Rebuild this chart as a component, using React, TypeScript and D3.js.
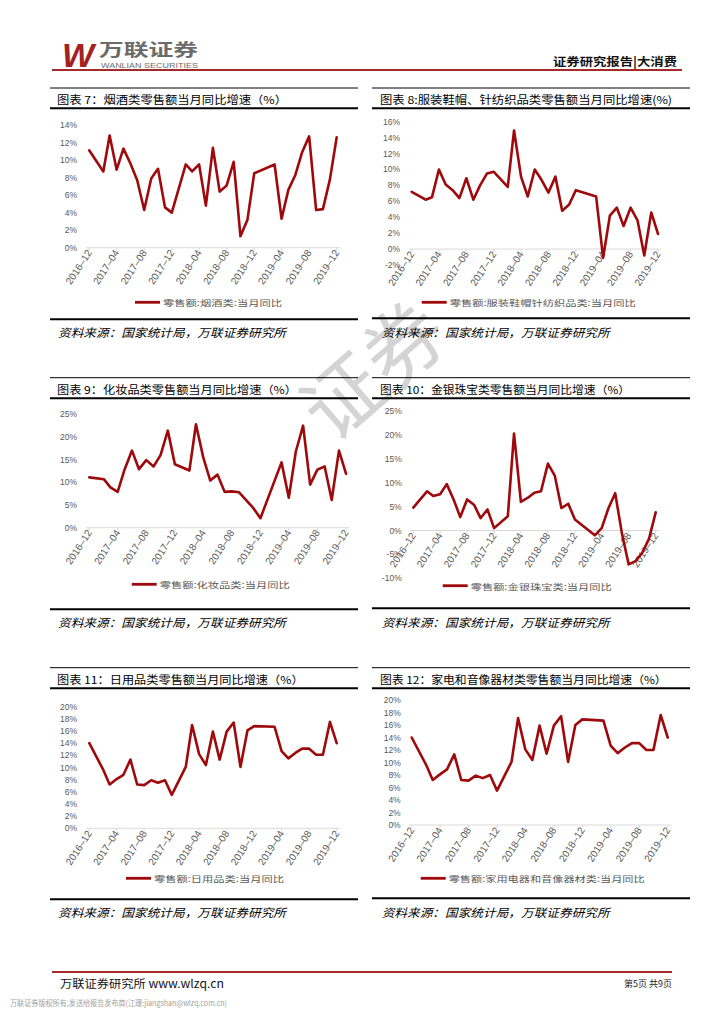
import React from "react";
import * as d3 from "d3";

// months with data (Jan / Jan-Feb gaps as in the source)
const months = [
  "2016-12",
  "2017-02", "2017-03", "2017-04", "2017-05", "2017-06", "2017-07", "2017-08", "2017-09", "2017-10", "2017-11", "2017-12",
  "2018-02", "2018-03", "2018-04", "2018-05", "2018-06", "2018-07", "2018-08", "2018-09", "2018-10", "2018-11", "2018-12",
  "2019-03", "2019-04", "2019-05", "2019-06", "2019-07", "2019-08", "2019-09", "2019-10", "2019-11", "2019-12",
];
const tickMonths = ["2016-12", "2017-04", "2017-08", "2017-12", "2018-04", "2018-08", "2018-12", "2019-04", "2019-08", "2019-12"];

const tobacco = [11.1, 8.7, 12.8, 8.9, 11.3, 9.6, 7.7, 4.3, 7.9, 9.0, 4.6, 4.0, 9.5, 8.7, 9.5, 4.8, 11.4, 6.4, 7.1, 9.8, 1.3, 3.2, 8.5, 9.5, 3.3, 6.6, 8.3, 10.9, 12.7, 4.3, 4.4, 7.8, 12.6];
const apparel = [7.2, 6.2, 6.5, 10.0, 8.1, 7.4, 6.4, 8.9, 6.2, 8.0, 9.5, 9.7, 7.8, 14.9, 9.1, 6.6, 10.0, 8.7, 7.1, 9.1, 4.8, 5.6, 7.4, 6.6, -1.1, 4.2, 5.2, 2.9, 5.2, 3.6, -0.8, 4.6, 1.9];
const cosmetics = [11.1, 10.7, 8.9, 7.9, 12.9, 17.0, 12.9, 14.9, 13.5, 16.0, 21.4, 14.0, 12.6, 22.8, 15.5, 10.4, 11.7, 7.9, 8.0, 7.8, 6.1, 4.3, 2.1, 14.4, 6.6, 16.8, 22.5, 9.5, 12.8, 13.5, 6.1, 17.0, 11.9];
const jewelry = [4.8, 8.2, 7.2, 7.6, 9.7, 6.5, 2.8, 6.5, 5.4, 2.6, 4.4, 0.5, 3.0, 20.3, 6.0, 6.8, 7.9, 8.2, 14.0, 11.5, 4.7, 5.6, 2.3, -1.0, 0.5, 4.6, 7.8, -0.5, -7.1, -6.4, -4.7, -1.7, 3.8];
const dailyUse = [14.0, 9.6, 7.2, 8.1, 8.8, 11.3, 7.2, 7.1, 7.9, 7.5, 7.9, 5.5, 10.1, 17.0, 12.2, 10.4, 15.9, 11.3, 15.9, 17.4, 10.1, 16.1, 16.8, 16.7, 12.7, 11.5, 12.4, 13.1, 13.1, 12.1, 12.1, 17.5, 14.0];
const appliances = [14.0, 9.6, 7.2, 8.1, 8.9, 11.3, 7.2, 7.1, 7.9, 7.5, 8.0, 5.5, 10.1, 17.1, 12.1, 10.4, 15.9, 11.4, 15.9, 17.4, 10.1, 16.0, 16.9, 16.7, 12.7, 11.5, 12.4, 13.1, 13.1, 12.0, 12.0, 17.6, 14.0];

const titles = [
  "图表 7：烟酒类零售额当月同比增速（%）",
  "图表 8:服装鞋帽、针纺织品类零售额当月同比增速(%)",
  "图表 9：化妆品类零售额当月同比增速（%）",
  "图表 10：金银珠宝类零售额当月同比增速（%）",
  "图表 11：日用品类零售额当月同比增速（%）",
  "图表 12：家电和音像器材类零售额当月同比增速（%）",
];
const legends = [
  "零售额:烟酒类:当月同比",
  "零售额:服装鞋帽针纺织品类:当月同比",
  "零售额:化妆品类:当月同比",
  "零售额:金银珠宝类:当月同比",
  "零售额:日用品类:当月同比",
  "零售额:家用电器和音像器材类:当月同比",
];
const source = "资料来源：国家统计局，万联证券研究所";

const RED = "#9e0a0c";
const GREY = "#595959";
const CJK = "'Noto Sans CJK SC', sans-serif";
const NUM = "'Liberation Sans', Arial, sans-serif";

const parse = d3.timeParse("%Y-%m");

interface Layout {
  colL: number; colR: number; titleX: number; titleW: number;
  lineTop: number; titleY: number; lineMid: number; lineBot: number; sourceY: number; sourceX: number;
  x0: number; x1: number; yTopPx: number; yBotPx: number;
  yMin: number; yMax: number; yStep: number;
  labelRight: number; legendX: number; legendY: number; legendW: number;
}

const layouts: Layout[] = [
  { colL: 50, colR: 358, titleX: 57, titleW: 230, lineTop: 88, titleY: 99, lineMid: 108.3, lineBot: 319.3, sourceY: 332, sourceX: 58,
    x0: 89.3, x1: 336.7, yTopPx: 125, yBotPx: 247.7, yMin: 0, yMax: 14, yStep: 2, labelRight: 77, legendX: 135, legendY: 302.3, legendW: 119 },
  { colL: 372, colR: 690, titleX: 380, titleW: 292, lineTop: 88, titleY: 99, lineMid: 108.3, lineBot: 318.3, sourceY: 332, sourceX: 381.7,
    x0: 411.7, x1: 658, yTopPx: 121.7, yBotPx: 265, yMin: -2, yMax: 16, yStep: 2, labelRight: 400, legendX: 421.7, legendY: 302.3, legendW: 186 },
  { colL: 50, colR: 358, titleX: 57, titleW: 240, lineTop: 377.7, titleY: 389, lineMid: 398.3, lineBot: 609.3, sourceY: 622, sourceX: 58,
    x0: 89.3, x1: 346, yTopPx: 414.3, yBotPx: 527.7, yMin: 0, yMax: 25, yStep: 5, labelRight: 77, legendX: 131.7, legendY: 584.3, legendW: 130 },
  { colL: 372, colR: 690, titleX: 380, titleW: 250, lineTop: 377.7, titleY: 389, lineMid: 398.3, lineBot: 608.3, sourceY: 622, sourceX: 381.7,
    x0: 413.3, x1: 655.7, yTopPx: 411, yBotPx: 578.3, yMin: -10, yMax: 25, yStep: 5, labelRight: 401.7, legendX: 442.7, legendY: 585.7, legendW: 141 },
  { colL: 50, colR: 358, titleX: 57, titleW: 246.6, lineTop: 667.7, titleY: 679, lineMid: 688.3, lineBot: 899.3, sourceY: 912, sourceX: 58,
    x0: 89.3, x1: 336.7, yTopPx: 706.7, yBotPx: 828.3, yMin: 0, yMax: 20, yStep: 2, labelRight: 77, legendX: 126, legendY: 878.3, legendW: 130 },
  { colL: 372, colR: 690, titleX: 380, titleW: 286.7, lineTop: 667.7, titleY: 679, lineMid: 688.3, lineBot: 898.3, sourceY: 912, sourceX: 381.7,
    x0: 411.7, x1: 667.7, yTopPx: 700, yBotPx: 825, yMin: 0, yMax: 20, yStep: 2, labelRight: 400.7, legendX: 420.7, legendY: 878.3, legendW: 196 },
];

const series = [tobacco, apparel, cosmetics, jewelry, dailyUse, appliances];

function LineChart({ values, title, legend, L }: { values: number[]; title: string; legend: string; L: Layout }) {
  const dates = months.map((m) => parse(m) as Date);
  const first = dates[0];
  const last = dates[dates.length - 1];
  const x = d3.scaleTime().domain([first, last]).range([L.x0, L.x1]);
  const y = d3.scaleLinear().domain([L.yMin, L.yMax]).range([L.yBotPx, L.yTopPx]);
  const yTicks = d3.range(L.yMin, L.yMax + 0.001, L.yStep);
  const axisY = y(0);
  const axStart = x(d3.timeDay.offset(first, -13));
  const axEnd = x(d3.timeDay.offset(last, 14));
  const line = d3
    .line<number>()
    .x((_, i) => x(dates[i]))
    .y((d) => y(d));

  const theta = 57;
  return (
    <g>
      {/* header rules and title */}
      <line x1={L.colL} x2={L.colR} y1={L.lineTop} y2={L.lineTop} stroke="#000" strokeWidth={1} />
      <text x={L.titleX} y={L.titleY} dominantBaseline="central" fontFamily={CJK} fontSize={11} fill="#000"
        textLength={L.titleW} lengthAdjust="spacingAndGlyphs">{title}</text>
      <line x1={L.colL} x2={L.colR} y1={L.lineMid} y2={L.lineMid} stroke="#000" strokeWidth={2} />

      {/* y labels */}
      {yTicks.map((t) => (
        <text key={t} x={L.labelRight} y={y(t)} textAnchor="end" dominantBaseline="central"
          fontFamily={NUM} fontSize={8.5} fill={GREY}>{`${t}%`}</text>
      ))}

      {/* x axis */}
      <line x1={axStart} x2={axEnd} y1={axisY} y2={axisY} stroke="#d9d9d9" strokeWidth={1} />
      {tickMonths.map((m) => {
        const tx = x(parse(m) as Date);
        return (
          <g key={m}>
            <line x1={tx} x2={tx} y1={axisY} y2={axisY + 3} stroke="#d9d9d9" strokeWidth={1} />
            <text transform={`translate(${tx + 3},${axisY + 5}) rotate(-${theta})`} textAnchor="end"
              fontFamily={NUM} fontSize={10} fill={GREY}>{m.replace("-", "–")}</text>
          </g>
        );
      })}

      {/* series */}
      <path d={line(values) || ""} fill="none" stroke={RED} strokeWidth={2.6} strokeLinejoin="round" strokeLinecap="round" />

      {/* legend */}
      <line x1={L.legendX} x2={L.legendX + 25} y1={L.legendY} y2={L.legendY} stroke={RED} strokeWidth={2.8} />
      <text x={L.legendX + 28} y={L.legendY} dominantBaseline="central" fontFamily={CJK} fontSize={8.5} fill={GREY}
        textLength={L.legendW} lengthAdjust="spacingAndGlyphs">{legend}</text>

      {/* footer rule and source */}
      <line x1={L.colL} x2={L.colR} y1={L.lineBot} y2={L.lineBot} stroke="#000" strokeWidth={2} />
      <text x={L.sourceX} y={L.sourceY} dominantBaseline="central" fontFamily={CJK} fontSize={11.5} fontStyle="italic"
        fill="#000" textLength={228} lengthAdjust="spacingAndGlyphs">{source}</text>
    </g>
  );
}

export default function App() {
  return (
    <svg width={724} height={1024} viewBox="0 0 724 1024"
      style={{ position: "absolute", left: 0, top: 0, background: "#fff" }}>
      <rect width={724} height={1024} fill="#fff" />

      {/* watermark */}
      <text transform="translate(370,366) rotate(-41)" textAnchor="middle" dominantBaseline="central"
        fontFamily={CJK} fontSize={80} fill="#d4d4d4">证券</text>

      {/* page header */}
      <text x={62} y={67} fontFamily={NUM} fontWeight={900} fontStyle="italic" fontSize={34} fill="#a3211f">W</text>
      <text x={99} y={56} fontFamily={CJK} fontWeight={700} fontSize={17} fill="#6b6b6b"
        textLength={99} lengthAdjust="spacingAndGlyphs">万联证券</text>
      <text x={101} y={68} fontFamily={NUM} fontSize={7} fill="#6b6b6b"
        textLength={97} lengthAdjust="spacingAndGlyphs">WANLIAN SECURITIES</text>
      <text x={553} y={60.5} dominantBaseline="central" fontFamily={CJK} fontWeight={700} fontSize={11.5} fill="#111"
        textLength={124} lengthAdjust="spacingAndGlyphs">证券研究报告|大消费</text>
      <line x1={52} x2={682} y1={70} y2={70} stroke="#a52a2a" strokeWidth={2} />

      {layouts.map((L, i) => (
        <LineChart key={i} values={series[i]} title={titles[i]} legend={legends[i]} L={L} />
      ))}

      {/* page footer */}
      <line x1={52} x2={672} y1={972} y2={972} stroke="#a52a2a" strokeWidth={2} />
      <text x={60} y={983} dominantBaseline="central" fontFamily={CJK} fontSize={11.5} fill="#111"
        textLength={164} lengthAdjust="spacingAndGlyphs">万联证券研究所 www.wlzq.cn</text>
      <text x={672} y={983} textAnchor="end" dominantBaseline="central" fontFamily={CJK} fontSize={9} fill="#222">第5页 共9页</text>
      <text x={10} y={1002} dominantBaseline="central" fontFamily={CJK} fontSize={7.5} fill="#a0a0a0"
        textLength={217} lengthAdjust="spacingAndGlyphs">万联证券版权所有,发送给报告发布商(江珊:jiangshan@wlzq.com.cn)</text>
    </svg>
  );
}
